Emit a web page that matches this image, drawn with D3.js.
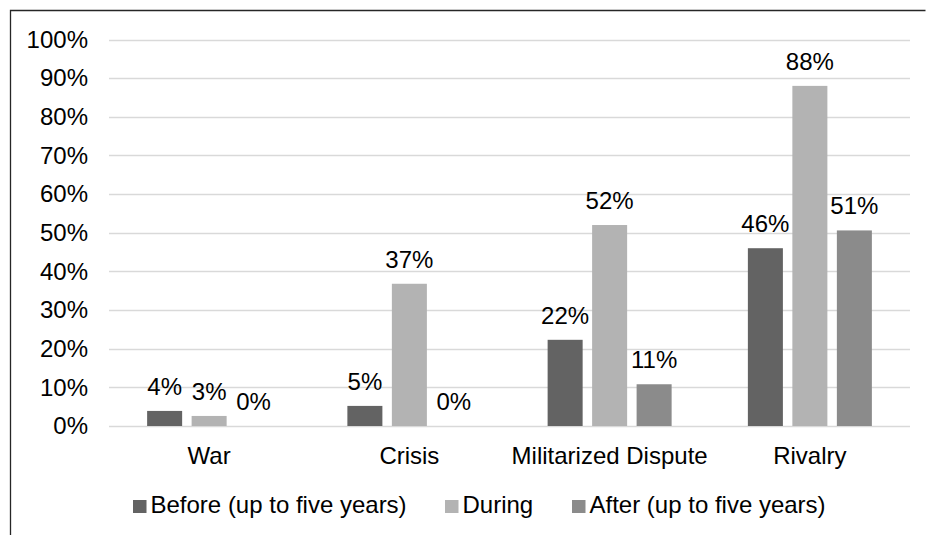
<!DOCTYPE html>
<html>
<head>
<meta charset="utf-8">
<script src="https://cdn.jsdelivr.net/npm/d3@7"></script>
<style>
  html, body { margin: 0; padding: 0; background: #fff; }
  svg { display: block; font-family: "Liberation Sans", Arial, sans-serif; }
</style>
</head>
<body>
<svg id="chart" width="927" height="535"></svg>
<script>
// Share of cases by conflict type, relative to the period
const categories = ["War", "Crisis", "Militarized Dispute", "Rivalry"];
const seriesNames = ["Before (up to five years)", "During", "After (up to five years)"];
const beforeValues = [0.039, 0.052, 0.223, 0.46];
const duringValues = [0.026, 0.368, 0.52, 0.88];
const afterValues  = [0.0, 0.0, 0.108, 0.506];
const yTicks = [0, 0.1, 0.2, 0.3, 0.4, 0.5, 0.6, 0.7, 0.8, 0.9, 1.0];
const seriesColors = ["#636363", "#b3b3b3", "#8b8b8b"];

const seriesValues = [beforeValues, duringValues, afterValues];
const pct = d3.format(".0%");

const svg = d3.select("#chart");
const fontSize = 24;

// frame around the chart area
svg.append("path")
  .attr("d", "M10.5,535 V10.5 H925.5")
  .attr("fill", "none")
  .attr("stroke", "#262626")
  .attr("stroke-width", 1.3);

const plot = { left: 109, right: 910, top: 39.5, bottom: 426 };

const x0 = d3.scaleBand().domain(categories).range([plot.left, plot.right]).padding(0);
const x1 = d3.scaleBand().domain(d3.range(seriesNames.length)).range([-62, 62]).paddingInner(0.213);
const y = d3.scaleLinear().domain([0, 1]).range([plot.bottom, plot.top]);

// horizontal gridlines
svg.append("g")
  .selectAll("line")
  .data(yTicks)
  .join("line")
  .attr("x1", plot.left)
  .attr("x2", plot.right)
  .attr("y1", d => Math.round(y(d)) + 0.5)
  .attr("y2", d => Math.round(y(d)) + 0.5)
  .attr("stroke", "#d9d9d9")
  .attr("stroke-width", 1.5);

// y axis labels
const yAxis = d3.axisLeft(y).tickValues(yTicks).tickFormat(pct).tickSize(0).tickPadding(21);
const yAxisG = svg.append("g").attr("transform", `translate(${plot.left},0)`).call(yAxis);
yAxisG.select(".domain").remove();
yAxisG.selectAll("text")
  .attr("font-size", fontSize)
  .attr("font-family", "Liberation Sans, Arial, sans-serif")
  .attr("fill", "#000");

// category labels
const xAxis = d3.axisBottom(x0).tickSize(0).tickPadding(21);
const xAxisG = svg.append("g").attr("transform", `translate(0,${plot.bottom})`).call(xAxis);
xAxisG.select(".domain").remove();
xAxisG.selectAll("text")
  .attr("font-size", fontSize)
  .attr("font-family", "Liberation Sans, Arial, sans-serif")
  .attr("fill", "#000");

// bars and value labels
const rows = [];
categories.forEach((c, ci) => {
  seriesValues.forEach((vals, si) => rows.push({ cat: c, si, value: vals[ci] }));
});
const barX = d => x0(d.cat) + x0.bandwidth() / 2 + x1(d.si);

svg.append("g")
  .selectAll("rect")
  .data(rows)
  .join("rect")
  .attr("x", barX)
  .attr("width", x1.bandwidth())
  .attr("y", d => y(d.value))
  .attr("height", d => y(0) - y(d.value))
  .attr("fill", d => seriesColors[d.si]);

svg.append("g")
  .selectAll("text")
  .data(rows)
  .join("text")
  .attr("x", d => barX(d) + x1.bandwidth() / 2)
  .attr("y", d => y(d.value) - 16)
  .attr("text-anchor", "middle")
  .attr("font-size", fontSize)
  .attr("fill", "#000")
  .text(d => pct(d.value));

// legend
const legendItems = [
  { name: seriesNames[0], x: 133 },
  { name: seriesNames[1], x: 445 },
  { name: seriesNames[2], x: 572 }
];
const legend = svg.append("g");
legendItems.forEach((it, i) => {
  legend.append("rect")
    .attr("x", it.x).attr("y", 500)
    .attr("width", 13.5).attr("height", 13)
    .attr("fill", seriesColors[i]);
  legend.append("text")
    .attr("x", it.x + 17.5).attr("y", 513)
    .attr("font-size", fontSize)
    .attr("fill", "#000")
    .text(it.name);
});
</script>
</body>
</html>
